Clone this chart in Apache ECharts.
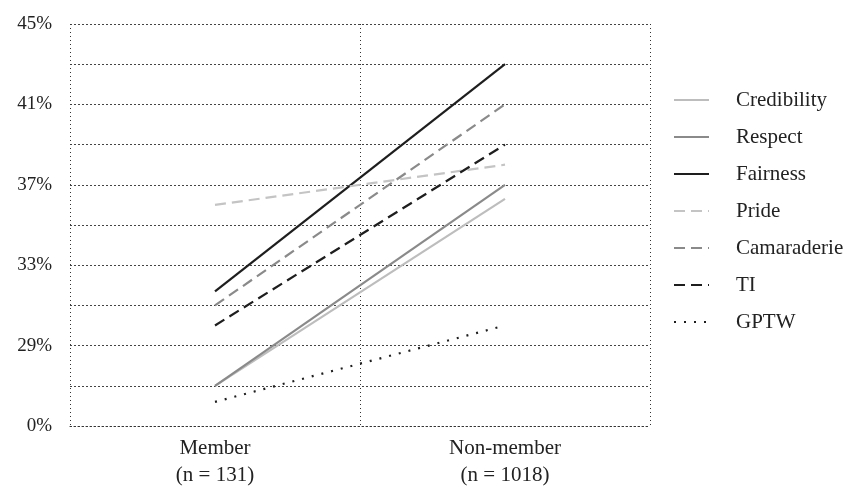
<!DOCTYPE html>
<html><head><meta charset="utf-8">
<script src="https://cdn.jsdelivr.net/npm/echarts@6/dist/echarts.min.js"></script>
<style>html,body{margin:0;padding:0;background:#fff}#c{width:862px;height:489px}</style>
</head><body><div id="c"></div>
<script>
const categories = ['Member\n(n = 131)', 'Non-member\n(n = 1018)'];
const seriesNames = ['Credibility','Respect','Fairness','Pride','Camaraderie','TI','GPTW'];
const credibility = [27.0, 36.3];
const respect = [27.0, 37.0];
const fairness = [31.7, 43.0];
const pride = [36.0, 38.0];
const camaraderie = [31.0, 41.0];
const ti = [30.0, 39.0];
const gptw = [26.2, 30.0];
const values = [credibility, respect, fairness, pride, camaraderie, ti, gptw];
const styles = [
  {color:'#bdbdbd', type:'solid'},
  {color:'#8a8a8a', type:'solid'},
  {color:'#1e1e1e', type:'solid'},
  {color:'#c4c4c4', type:[11,6]},
  {color:'#8a8a8a', type:[11,6]},
  {color:'#1e1e1e', type:[11,6]},
  {color:'#1e1e1e', type:[2,8]}
];
const font = 'Liberation Serif';
const chart = echarts.init(document.getElementById('c'));
chart.setOption({
  animation:false,
  textStyle:{fontFamily:font},
  grid:{left:70, right:212, top:24, bottom:61},
  legend:{
    orient:'vertical', left:673, top:89, padding:0, itemWidth:35, itemHeight:14, itemGap:15,
    itemStyle:{opacity:0},
    textStyle:{fontFamily:font, fontSize:21, color:'#222', padding:[0,0,0,22], lineHeight:22},
    data: seriesNames
  },
  xAxis:{
    type:'category', data:categories, boundaryGap:true,
    axisLine:{show:true, lineStyle:{color:'#333', type:[1,3], width:1}},
    axisTick:{show:false},
    splitLine:{show:true, lineStyle:{color:'#333', type:[1,3], width:1}},
    axisLabel:{fontFamily:font, fontSize:21, color:'#222', lineHeight:27, margin:9}
  },
  yAxis:{
    type:'value', min:25, max:45, interval:2,
    axisLine:{show:false}, axisTick:{show:false},
    splitLine:{show:true, lineStyle:{color:'#444', type:[2,2], width:1}},
    axisLabel:{fontFamily:font, fontSize:19, color:'#222', margin:18,
      formatter:function(v){ if(v===25) return '0%'; if((v-29)%4===0) return v+'%'; return ''; }}
  },
  series: seriesNames.map((n,i)=>({
    name:n, type:'line', data:values[i], symbol:'none', silent:true,
    lineStyle:{color:styles[i].color, type:styles[i].type, width:2.2},
    itemStyle:{color:styles[i].color}
  }))
});
</script></body></html>
